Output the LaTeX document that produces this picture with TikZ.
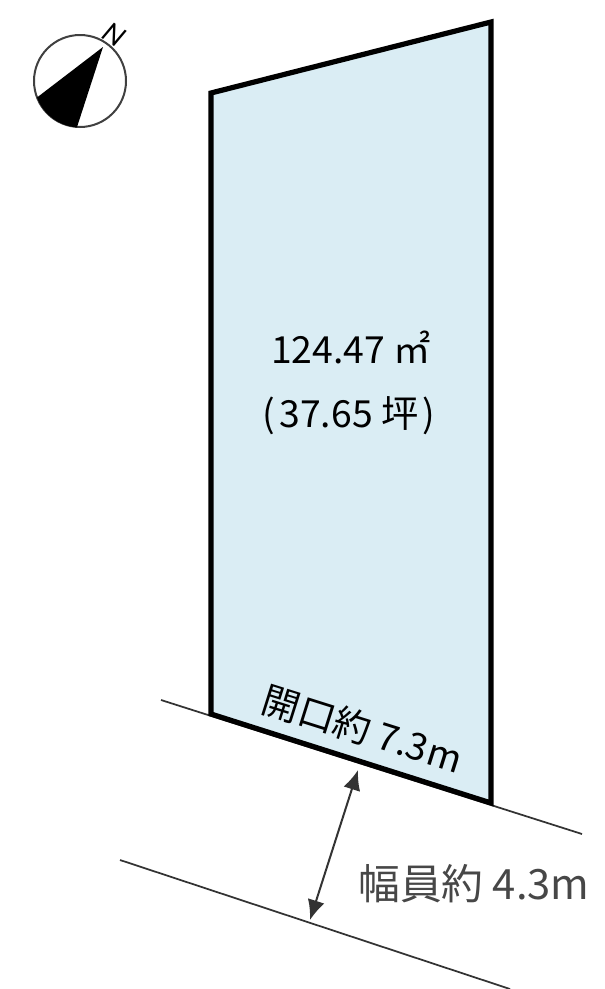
\documentclass[tikz,border=0pt]{standalone}
\usepackage{fontspec}
\setmainfont{Noto Sans CJK JP}[Scale=1]
\newfontfamily\latinf{Carlito}
\usetikzlibrary{arrows.meta}
\definecolor{lotblue}{HTML}{DAEDF4}
\definecolor{roadgray}{HTML}{333333}
\tikzset{
  lot/.style={draw=black,line width=3.9pt,fill=lotblue,line join=miter},
  road/.style={draw=roadgray,line width=1.3pt},
  dim/.style={draw=roadgray,line width=1.5pt,{Latex[length=15pt,width=13pt]}-{Latex[length=15pt,width=13pt]}},
  lbl/.style={inner sep=0pt,text=black,font=\fontsize{28pt}{30pt}\selectfont},
}
\begin{document}
\begin{tikzpicture}[x=0.75pt,y=-0.75pt]
\useasboundingbox (0,0) rectangle (604,989);
% road
\coordinate (r1a) at (161,700);
\coordinate (r1b) at (582,834);
\coordinate (r2a) at (120,860);
\coordinate (r2b) at (510,989);
\draw[road] (r1a) -- (r1b);
\draw[road] (r2a) -- (r2b);
% lot
\coordinate (la) at (211,93);
\coordinate (lb) at (491,22);
\coordinate (lc) at (491,803);
\coordinate (ld) at (211,714);
\filldraw[lot] (la) -- (lb) -- (lc) -- (ld) -- cycle;
% width arrow
\coordinate (aa) at (358,770);
\coordinate (ab) at (310,920);
\draw[dim] (aa) -- (ab);
% compass
\coordinate (cc) at (80,81);
\draw[line width=1.5pt,draw=black!75] (cc) circle[radius=46];
\fill[black] (103,47) -- (37,97.5) arc[start angle=159.6,end angle=94,radius=46] -- cycle;
\node[inner sep=0pt,rotate=-33,font=\latinf\fontsize{23pt}{23pt}\itshape\selectfont] (north) at (114,35) {N};
% labels
\node[lbl,anchor=base] (area) at (351,363) {124.47 ㎡};
\node[lbl,anchor=base] (tsubo) at (349,427) {(\hspace{3pt}37.65 坪\hspace{3pt})};
\node[lbl,rotate=-17.5] (front) at (363,729) {開口約 7.3\hspace{1pt}m};
\node[lbl,text=black!72,font=\fontsize{31.3pt}{33pt}\selectfont] (width) at (474,884) {幅員約 4.3m};
\end{tikzpicture}
\end{document}
